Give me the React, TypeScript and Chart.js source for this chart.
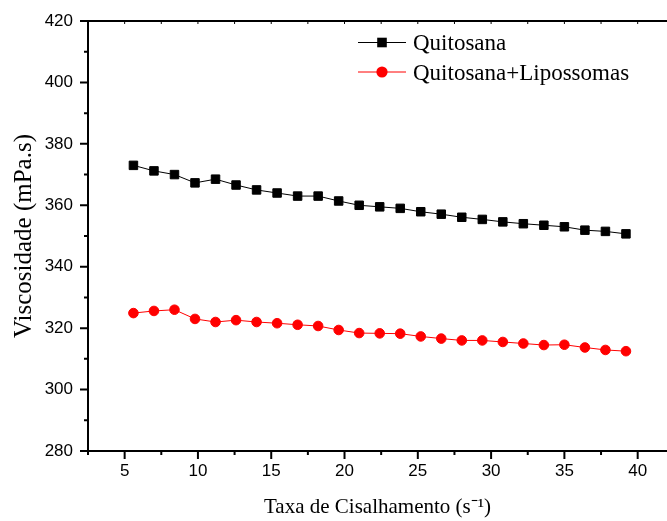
import React, { useEffect, useRef } from "react";
import { Chart, registerables } from "chart.js";

Chart.register(...registerables);

// Shear rate (s^-1)
const shearRate = [
  5.6, 7.0, 8.4, 9.8, 11.2, 12.6, 14.0, 15.4, 16.8, 18.2, 19.6, 21.0, 22.4,
  23.8, 25.2, 26.6, 28.0, 29.4, 30.8, 32.2, 33.6, 35.0, 36.4, 37.8, 39.2,
];
// Viscosity (mPa.s)
const quitosana = [
  373.0, 371.2, 370.0, 367.3, 368.5, 366.6, 365.0, 364.0, 363.0, 363.0, 361.4,
  360.0, 359.5, 359.0, 357.9, 357.1, 356.1, 355.4, 354.6, 354.0, 353.5, 353.0,
  351.9, 351.5, 350.7,
];
const quitosanaLipossomas = [
  324.9, 325.6, 326.0, 323.0, 322.0, 322.6, 322.0, 321.6, 321.1, 320.7, 319.4,
  318.4, 318.3, 318.2, 317.3, 316.6, 316.0, 316.0, 315.5, 315.0, 314.5, 314.6,
  313.7, 312.9, 312.5,
];

const seriesNames = ["Quitosana", "Quitosana+Lipossomas"];
const xTicks = [5, 10, 15, 20, 25, 30, 35, 40];
const xMinorTicks = [2.5, 7.5, 12.5, 17.5, 22.5, 27.5, 32.5, 37.5];
const yTicks = [280, 300, 320, 340, 360, 380, 400, 420];
const yMinorTicks = [290, 310, 330, 350, 370, 390, 410];
const xTitle = "Taxa de Cisalhamento (s\u207B\u00B9)";
const yTitle = "Viscosidade (mPa.s)";

const axesPlugin = {
  id: "originAxes",
  afterDraw(chart: any) {
    const { ctx, chartArea, scales } = chart;
    const { left, top, right, bottom } = chartArea;
    const xs = scales.x;
    const ys = scales.y;
    ctx.save();
    ctx.strokeStyle = "#000";
    ctx.lineCap = "butt";
    ctx.lineWidth = 2;
    ctx.beginPath();
    ctx.moveTo(left, bottom);
    ctx.lineTo(right, bottom);
    ctx.moveTo(left, bottom + 1);
    ctx.lineTo(left, top - 1);
    ctx.moveTo(left - 1, top);
    ctx.lineTo(right, top);
    ctx.stroke();
    ctx.beginPath();
    xTicks.forEach((v) => {
      const px = xs.getPixelForValue(v);
      ctx.moveTo(px, bottom);
      ctx.lineTo(px, bottom + 8);
    });
    xMinorTicks.forEach((v) => {
      const px = xs.getPixelForValue(v);
      ctx.moveTo(px, bottom);
      ctx.lineTo(px, bottom + 4);
    });
    yTicks.forEach((v) => {
      const py = ys.getPixelForValue(v);
      ctx.moveTo(left - 8, py);
      ctx.lineTo(left, py);
    });
    yMinorTicks.forEach((v) => {
      const py = ys.getPixelForValue(v);
      ctx.moveTo(left - 4, py);
      ctx.lineTo(left, py);
    });
    ctx.stroke();
    ctx.lineWidth = 1;
    ctx.beginPath();
    [...xTicks, ...xMinorTicks].forEach((v) => {
      const px = xs.getPixelForValue(v);
      ctx.moveTo(px, top);
      ctx.lineTo(px, top + 3);
    });
    ctx.stroke();
    ctx.restore();
  },
};

const legendPlugin = {
  id: "customLegend",
  afterDraw(chart: any) {
    const { ctx } = chart;
    const x0 = 358;
    const x1 = 406;
    const rows = [42.5, 72];
    ctx.save();
    chart.data.datasets.forEach((ds: any, i: number) => {
      const y = rows[i];
      const cx = (x0 + x1) / 2;
      ctx.strokeStyle = ds.borderColor;
      ctx.lineWidth = 1;
      ctx.beginPath();
      ctx.moveTo(x0, y);
      ctx.lineTo(x1, y);
      ctx.stroke();
      ctx.fillStyle = ds.pointBackgroundColor;
      if (ds.pointStyle === "rect") {
        ctx.fillRect(cx - 4.8, y - 4.8, 9.6, 9.6);
      } else {
        ctx.beginPath();
        ctx.arc(cx, y, 5.6, 0, Math.PI * 2);
        ctx.fill();
      }
      ctx.fillStyle = "#000";
      ctx.font = '23px "Liberation Serif", "Times New Roman", serif';
      ctx.textBaseline = "alphabetic";
      ctx.textAlign = "left";
      ctx.fillText(ds.label, 413, y + 7.5);
    });
    ctx.restore();
  },
};

export default function App() {
  const canvasRef = useRef<HTMLCanvasElement | null>(null);

  useEffect(() => {
    if (!canvasRef.current) return;
    const chart = new Chart(canvasRef.current, {
      type: "line",
      data: {
        datasets: [
          {
            label: seriesNames[0],
            data: shearRate.map((x, i) => ({ x, y: quitosana[i] })),
            borderColor: "#000000",
            backgroundColor: "#000000",
            pointBackgroundColor: "#000000",
            pointBorderColor: "#000000",
            pointStyle: "rect",
            pointRadius: 6,
            pointBorderWidth: 1,
            borderWidth: 1,
            tension: 0,
          },
          {
            label: seriesNames[1],
            data: shearRate.map((x, i) => ({ x, y: quitosanaLipossomas[i] })),
            borderColor: "#ff0000",
            backgroundColor: "#ff0000",
            pointBackgroundColor: "#ff0000",
            pointBorderColor: "#ff0000",
            pointStyle: "circle",
            pointRadius: 4.8,
            pointBorderWidth: 1,
            borderWidth: 1,
            tension: 0,
          },
        ],
      },
      options: {
        animation: false,
        responsive: false,
        devicePixelRatio: 1,
        layout: { autoPadding: false, padding: { top: 21, right: 0, bottom: 0, left: 0 } },
        plugins: {
          legend: { display: false },
          tooltip: { enabled: false },
        },
        scales: {
          x: {
            type: "linear",
            min: 2.5,
            max: 42,
            afterBuildTicks: (s: any) => {
              s.ticks = xTicks.map((v) => ({ value: v }));
            },
            afterFit: (s: any) => {
              s.height = 70;
              s.paddingLeft = 0;
              s.paddingRight = 0;
              s.paddingTop = 0;
              s.paddingBottom = 0;
            },
            grid: { display: false, drawTicks: false },
            border: { display: false },
            ticks: {
              color: "#000",
              font: { family: '"Liberation Sans", Arial, sans-serif', size: 17 },
              padding: 10,
              maxRotation: 0,
              autoSkip: false,
            },
            title: {
              display: true,
              text: xTitle,
              color: "#000",
              font: { family: '"Liberation Serif", "Times New Roman", serif', size: 21 },
              padding: { top: 0, bottom: 1 },
            },
          },
          y: {
            type: "linear",
            min: 280,
            max: 420,
            afterBuildTicks: (s: any) => {
              s.ticks = yTicks.map((v) => ({ value: v }));
            },
            afterFit: (s: any) => {
              s.width = 88;
              s.paddingLeft = 0;
              s.paddingRight = 0;
              s.paddingTop = 0;
              s.paddingBottom = 0;
            },
            grid: { display: false, drawTicks: false },
            border: { display: false },
            ticks: {
              color: "#000",
              font: { family: '"Liberation Sans", Arial, sans-serif', size: 17 },
              padding: 15,
              autoSkip: false,
            },
            title: {
              display: true,
              text: yTitle,
              color: "#000",
              font: { family: '"Liberation Serif", "Times New Roman", serif', size: 25 },
              padding: { top: 9, bottom: 0 },
            },
          },
        },
      },
      plugins: [axesPlugin, legendPlugin],
    });
    return () => chart.destroy();
  }, []);

  return (
    <div style={{ position: "absolute", left: 0, top: 0, width: 667, height: 521, background: "#fff" }}>
      <canvas ref={canvasRef} width={667} height={521} />
    </div>
  );
}
